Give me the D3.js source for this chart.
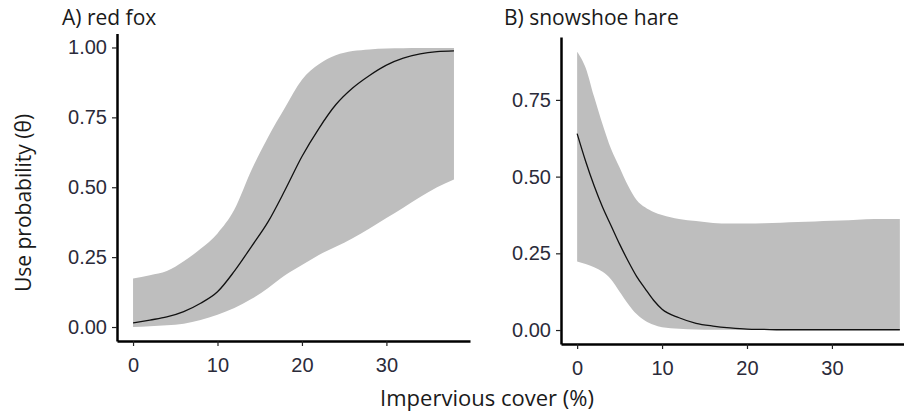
<!DOCTYPE html>
<html>
<head>
<meta charset="utf-8">
<script src="https://cdn.jsdelivr.net/npm/d3@7"></script>
<style>
  body { margin: 0; background: #fff; }
  .tick text { font-family: "Liberation Sans", Arial, sans-serif; font-size: 20px; fill: #2b2b3a; }
  .lbl { font-family: "Open Sans", sans-serif; fill: #1a1a1a; }
</style>
</head>
<body>
<script>
// red fox: x grid, posterior mean and credible band
var xFox = [0, 2, 4, 6, 8, 10, 12, 14, 16, 18, 20, 22, 24, 26, 28, 30, 32, 34, 36, 38];
var meanFox = [0.015, 0.025, 0.036, 0.055, 0.085, 0.126, 0.20, 0.287, 0.377, 0.49, 0.61, 0.71, 0.795, 0.855, 0.90, 0.937, 0.962, 0.977, 0.985, 0.988];
var highFox = [0.174, 0.185, 0.20, 0.235, 0.28, 0.335, 0.42, 0.56, 0.68, 0.785, 0.885, 0.94, 0.972, 0.987, 0.993, 0.996, 0.997, 0.998, 0.998, 0.998];
var lowFox = [0.0, 0.003, 0.006, 0.012, 0.025, 0.044, 0.068, 0.10, 0.14, 0.185, 0.222, 0.258, 0.287, 0.318, 0.352, 0.39, 0.427, 0.465, 0.50, 0.528];

// snowshoe hare
var xHare = [0, 1, 2, 3, 4, 5, 6, 7, 8, 9, 10, 12, 14, 16, 18, 20, 22, 24, 26, 28, 30, 32, 34, 36, 38];
var meanHare = [0.64, 0.55, 0.47, 0.40, 0.34, 0.28, 0.225, 0.175, 0.135, 0.097, 0.068, 0.04, 0.022, 0.013, 0.007, 0.003, 0.002, 0.001, 0.001, 0.001, 0.001, 0.001, 0.001, 0.001, 0.001];
var highHare = [0.907, 0.855, 0.76, 0.67, 0.59, 0.53, 0.47, 0.424, 0.40, 0.385, 0.375, 0.362, 0.355, 0.349, 0.347, 0.347, 0.348, 0.35, 0.352, 0.354, 0.356, 0.358, 0.361, 0.362, 0.362];
var lowHare = [0.223, 0.215, 0.205, 0.19, 0.165, 0.125, 0.085, 0.052, 0.03, 0.017, 0.009, 0.004, 0.002, 0.001, 0.001, 0, 0, 0, 0, 0, 0, 0, 0, 0, 0];

var xTicks = [0, 10, 20, 30];
var yTicksFox = [0, 0.25, 0.5, 0.75, 1];
var yTicksHare = [0, 0.25, 0.5, 0.75];

var width = 904, height = 412;

var svg = d3.select("body").append("svg")
    .attr("width", width)
    .attr("height", height);

function panel(opt) {
    var x = d3.scaleLinear().domain([-1.9, 39.9]).range(opt.xr);
    var y = d3.scaleLinear().domain(opt.yd).range(opt.yr);
    var g = svg.append("g");

    var rows = opt.xs.map(function (v, i) {
        return { x: v, m: opt.mean[i], lo: opt.low[i], hi: opt.high[i] };
    });

    // credible band
    g.append("path")
        .datum(rows)
        .attr("fill", "#bebebe")
        .attr("d", d3.area()
            .x(d => x(d.x))
            .y0(d => y(d.lo))
            .y1(d => y(d.hi))
            .curve(d3.curveMonotoneX));

    // mean line
    g.append("path")
        .datum(rows)
        .attr("fill", "none")
        .attr("stroke", "#111")
        .attr("stroke-width", 1.3)
        .attr("d", d3.line()
            .x(d => x(d.x))
            .y(d => y(d.m))
            .curve(d3.curveMonotoneX));

    var xAxis = g.append("g")
        .attr("transform", "translate(0," + opt.yr[0] + ")")
        .call(d3.axisBottom(x).tickValues(xTicks).tickSize(5).tickSizeOuter(0).tickPadding(12).tickFormat(d3.format("d")));

    var yAxis = g.append("g")
        .attr("transform", "translate(" + opt.xr[0] + ",0)")
        .call(d3.axisLeft(y).tickValues(opt.yt).tickSize(5).tickSizeOuter(0).tickPadding(5).tickFormat(d3.format(".2f")));

    [xAxis, yAxis].forEach(function (a) {
        a.select(".domain").attr("stroke", "#000").attr("stroke-width", 2.5);
        a.selectAll(".tick line").attr("stroke", "#222").attr("stroke-width", 1.2);
    });

    svg.append("text")
        .attr("class", "lbl")
        .attr("x", opt.tx)
        .attr("y", 25)
        .style("font-size", "21px")
        .text(opt.title);
}

panel({
    xr: [117, 470], yd: [-0.05, 1.05], yr: [341, 33.5],
    xs: xFox, mean: meanFox, low: lowFox, high: highFox,
    yt: yTicksFox, title: "A) red fox", tx: 62
});

panel({
    xr: [561, 916], yd: [-0.0455, 0.955], yr: [344, 37],
    xs: xHare, mean: meanHare, low: lowHare, high: highHare,
    yt: yTicksHare, title: "B) snowshoe hare", tx: 504
});

// axis titles
svg.append("text")
    .attr("class", "lbl")
    .attr("x", 487)
    .attr("y", 406)
    .attr("text-anchor", "middle")
    .style("font-size", "22px")
    .text("Impervious cover (%)");

svg.append("text")
    .attr("class", "lbl")
    .attr("transform", "translate(31,203) rotate(-90)")
    .attr("text-anchor", "middle")
    .style("font-size", "21px")
    .text("Use probability (θ)");
</script>
</body>
</html>
